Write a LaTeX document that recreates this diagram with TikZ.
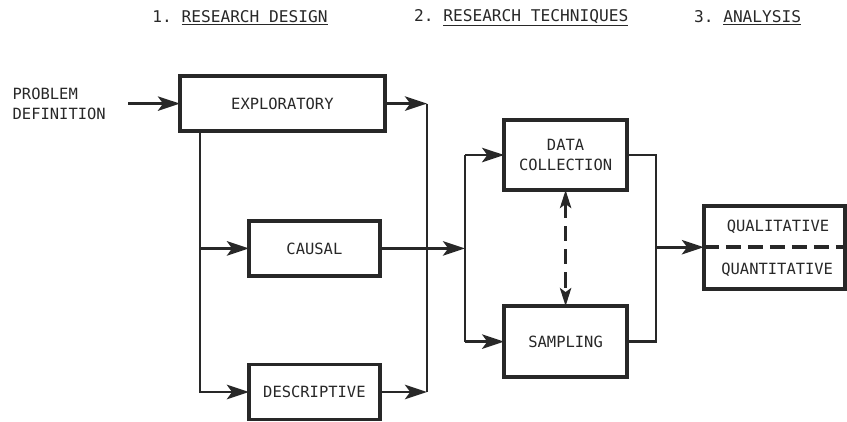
\documentclass[tikz,border=0pt]{standalone}
\usepackage{fontspec}
\setmonofont{DejaVu Sans Mono}
\usetikzlibrary{positioning}
\usetikzlibrary{arrows.meta,calc}
\definecolor{inkgray}{RGB}{40,40,40}
\tikzset{
    %Define standard arrow tip
    >={Stealth[length=0.55cm,width=0.36cm,inset=0.13cm]},
    % Define arrow style
    pil/.style={
           ->,
           color=inkgray,
           line width=2pt,},
    % plain connecting line
    lin/.style={
           color=inkgray,
           line width=2pt,}
}
\newcommand{\boxheight}{1.375cm}

\begin{document}
\begin{tikzpicture}[outer sep=0pt, font=\ttfamily\fontsize{11}{14}\selectfont, text=inkgray]
\tikzstyle{stagebox}=[draw=inkgray, fill=white, rectangle, line width=2.7pt,
    minimum height=\boxheight, align=center]
%
\tikzstyle{headlabel}=[font=\ttfamily\fontsize{11.5}{14}\selectfont, align=center]
%
\tikzstyle{dpil}=[{Stealth[length=0.45cm,width=0.28cm,inset=0.1cm]}-{Stealth[length=0.45cm,width=0.28cm,inset=0.1cm]},
    color=inkgray, line width=2.2pt, dash pattern=on 0.38cm off 0.2cm]
%
\tikzstyle{splitline}=[color=inkgray, line width=2.7pt, dash pattern=on 0.38cm off 0.17cm]

\useasboundingbox (0cm,0cm) rectangle (21.175cm,-10.525cm);

\node[headlabel] (head1) at (6.0cm,-0.45cm) {1. \underline{RESEARCH DESIGN}};
\node[headlabel] (head2) at (13.03cm,-0.45cm) {2. \underline{RESEARCH TECHNIQUES}};
\node[headlabel] (head3) at (18.69cm,-0.45cm) {3. \underline{ANALYSIS}};

\node[align=left, anchor=west] (prob) at (0.2cm,-2.59cm) {PROBLEM\\DEFINITION};

\node[stagebox, minimum width=5.125cm] (explor) at (7.06cm,-2.59cm) {EXPLORATORY};
\node[stagebox, minimum width=3.275cm] (causal) at (7.86cm,-6.21cm) {CAUSAL};
\node[stagebox, minimum width=3.275cm] (descr) at (7.86cm,-9.8cm) {DESCRIPTIVE};

\node[stagebox, minimum width=3.075cm, minimum height=1.75cm] (datacol) at (14.14cm,-3.875cm) {DATA\\COLLECTION};
\node[stagebox, minimum width=3.075cm, minimum height=1.775cm] (sampl) at (14.14cm,-8.54cm) {SAMPLING};

\node[stagebox, minimum width=3.525cm, minimum height=2.075cm] (anal) at (19.36cm,-6.18cm) {};
\node (qual) at (19.45cm,-5.675cm) {QUALITATIVE};
\node (quant) at (19.43cm,-6.75cm) {QUANTITATIVE};
\draw[splitline] (anal.west) -- (anal.east);

\coordinate (splitl) at (5.0cm,0cm);
\coordinate (joinr) at (10.675cm,0cm);
\coordinate (fork) at (11.625cm,0cm);
\coordinate (merge) at (16.4cm,0cm);

\draw[pil] ([xshift=0.45cm]prob.east) -- (explor.west);

\draw[pil] (explor.south -| splitl) |- (causal.west);
\draw[pil] (explor.south -| splitl) |- (descr.west);

\draw[pil] (explor.east) -- (explor.east -| joinr);
\draw[lin] (explor.east -| joinr) -- (descr.east -| joinr);
\draw[pil] (descr.east) -- (descr.east -| joinr);
\draw[pil] (causal.east) -- (causal.east -| fork);

\draw[lin] (datacol.west -| fork) -- (sampl.west -| fork);
\draw[pil] (datacol.west -| fork) -- (datacol.west);
\draw[pil] (sampl.west -| fork) -- (sampl.west);

\draw[dpil] (datacol.south) -- (sampl.north);

\draw[lin] (datacol.east) -| (sampl.east -| merge) -- (sampl.east);
\draw[pil] (anal.west -| merge) -- (anal.west);

\end{tikzpicture}
\end{document}
